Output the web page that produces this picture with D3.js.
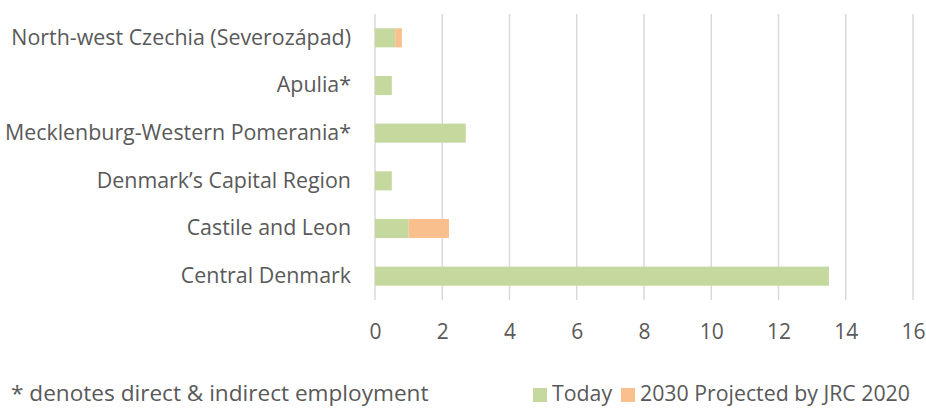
<!DOCTYPE html>
<html>
<head>
<meta charset="utf-8">
<script src="https://cdn.jsdelivr.net/npm/d3@7"></script>
<style>
body{margin:0;background:#fff;}
svg text{font-family:"Open Sans",sans-serif;fill:#595959;}
</style>
</head>
<body>
<div id="chart"></div>
<script>
(function(){
"use strict"

var regions = ["North-west Czechia (Severozápad)","Apulia*","Mecklenburg-Western Pomerania*","Denmark\u2019s Capital Region","Castile and Leon","Central Denmark"],
	today = [0.6,0.5,2.7,0.5,1.0,13.5],
	projected = [0.2,0,0,0,1.2,0],
	seriesNames = ["Today","2030 Projected by JRC 2020"],
	colors = ["#c5d89e","#f9c08d"],
	ticks = [0,2,4,6,8,10,12,14,16];

var width = 926, height = 408;

var svg = d3.select('#chart').append('svg')
	.attr('width',width)
	.attr('height',height);

var x = d3.scaleLinear().domain([0,16]).range([375,913]);
var y = d3.scaleBand().domain(regions).range([14,300]).paddingInner(0.6).paddingOuter(0.3);

// gridlines
svg.selectAll('line.grid')
	.data(ticks)
	.enter().append('line')
		.attr('x1',function(d){return x(d);})
		.attr('x2',function(d){return x(d);})
		.attr('y1',14)
		.attr('y2',300)
		.style('stroke','#d9d9d9')
		.style('stroke-width',1.5);

var stacked = regions.map(function(r,i){return {r:r,vals:[today[i],projected[i]]};});

stacked.forEach(function(d){
	var start = 0;
	d.vals.forEach(function(v,k){
		if (v>0){
			svg.append('rect')
				.attr('x',x(start))
				.attr('y',y(d.r))
				.attr('width',x(start+v)-x(start))
				.attr('height',y.bandwidth())
				.style('fill',colors[k]);
		}
		start+=v;
	});
});

// x tick labels
var xAxis = svg.append('g')
	.attr('transform','translate(0,300)')
	.call(d3.axisBottom(x).tickValues(ticks).tickSize(0).tickPadding(0));
xAxis.select('.domain').remove();
xAxis.selectAll('text')
	.attr('y',39).attr('dy',null)
	.style('font-size','21px').style('fill','#595959').style('font-family','"Open Sans",sans-serif');

// category labels
var yAxis = svg.append('g')
	.attr('transform','translate(375,0)')
	.call(d3.axisLeft(y).tickSize(0).tickPadding(24));
yAxis.select('.domain').remove();
yAxis.selectAll('text').style('font-size','21.4px').style('fill','#595959').style('font-family','"Open Sans",sans-serif');

// footnote
svg.append('text')
	.attr('x',11)
	.attr('y',401)
	.style('font-size','22.6px')
	.text('* denotes direct & indirect employment');

// legend
var lx = [533,621];
seriesNames.forEach(function(n,i){
	svg.append('rect')
		.attr('x',lx[i]).attr('y',388)
		.attr('width',14).attr('height',14)
		.style('fill',colors[i]);
	svg.append('text')
		.attr('x',lx[i]+19)
		.attr('y',401)
		.style('font-size','21.3px')
		.text(n);
});

})();
</script>
</body>
</html>
